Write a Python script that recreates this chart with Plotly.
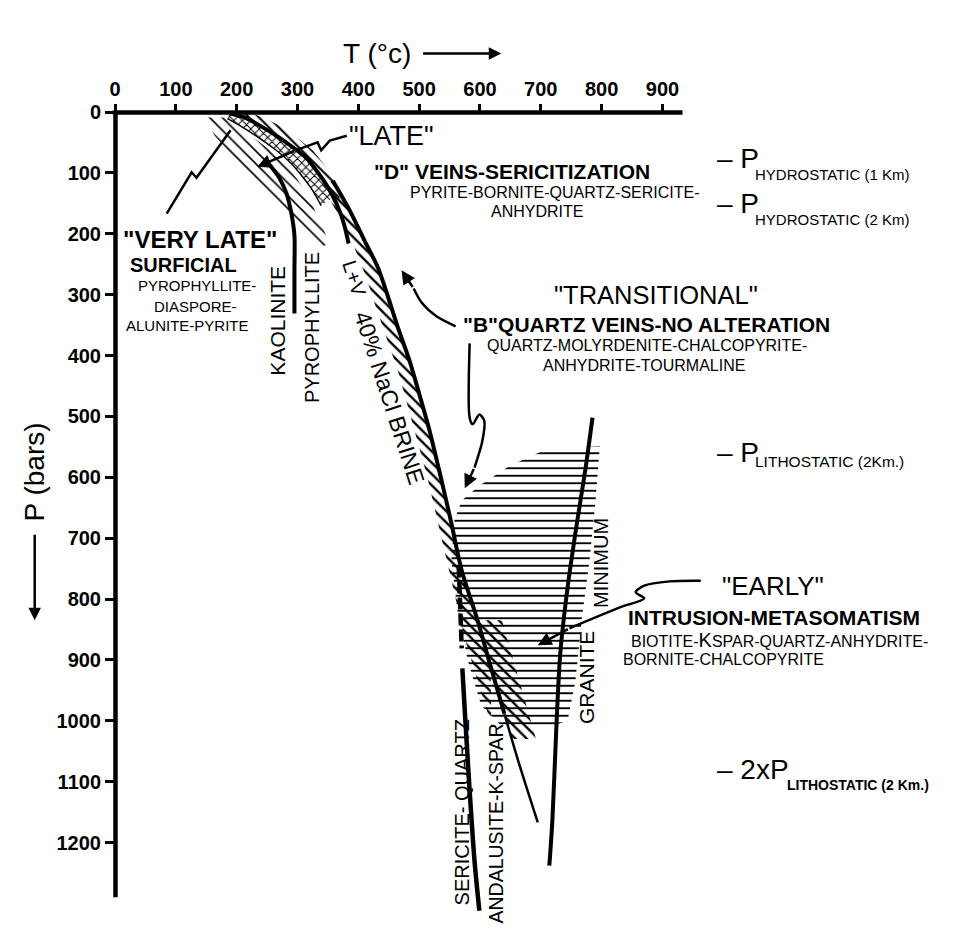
import plotly.graph_objects as go

# ---------------- data (T in deg C, P in bars) ----------------
X_TICKS = [0, 100, 200, 300, 400, 500, 600, 700, 800, 900]
Y_TICKS = [0, 100, 200, 300, 400, 500, 600, 700, 800, 900, 1000, 1100, 1200]
X_AXIS_END = 933
Y_AXIS_END = 1290

# L+V 40% NaCl brine curve
brine_T = [358, 386, 410, 432, 448, 464, 484, 501, 517, 533, 552, 570, 596, 617, 640, 665, 695]
brine_P = [113, 162, 211, 255, 301, 351, 408, 466, 523, 589, 671, 753, 835, 909, 988, 1073, 1167]

# upper ("late") arc and its thin inner rail
arc_T = [188, 213, 241, 270, 295, 315, 331, 346, 359, 369, 377, 384]
arc_P = [2, 9, 24, 42, 60, 76, 96, 117, 140, 162, 186, 216]
arc_out_T = [221, 249, 279, 303, 325, 343, 358, 369]
arc_out_P = [1, 11, 27, 45, 63, 85, 106, 129]
inner_T = [185, 208, 236, 264, 288, 308, 325, 339]
inner_P = [11, 24, 42, 62, 83, 106, 129, 154]

# kaolinite / pyrophyllite boundary
kaol_T = [251, 270, 282, 290, 295, 295, 295]
kaol_P = [83, 108, 134, 167, 203, 260, 331]

# sericite-quartz / andalusite-K-spar boundary
seric_dash_T = [565, 570]
seric_dash_P = [745, 881]
seric_T = [571, 576, 583, 591, 599]
seric_P = [914, 1000, 1115, 1230, 1312]

# granite minimum
granite_T = [785, 773, 760, 744, 732, 726, 719, 714]
granite_P = [502, 589, 671, 781, 889, 1000, 1164, 1238]

# hatched fields
early_T = [711, 797, 790, 780, 767, 757, 744, 711, 640, 602, 580, 563, 553, 558, 570, 599, 649]
early_P = [553, 549, 638, 737, 835, 934, 1000, 1011, 1013, 975, 901, 819, 737, 671, 638, 614, 581]
brine_band_T = [340, 368, 392, 412, 428, 445, 465, 481, 497, 514, 530, 545, 560, 576, 596, 619]
brine_band_P = [121, 170, 219, 269, 318, 367, 425, 482, 540, 602, 671, 737, 802, 868, 934, 1008]
brine_right_T = [596, 617, 640, 652, 692, 680, 657, 636]
brine_right_P = [835, 909, 988, 1030, 1030, 988, 909, 835]
verylate_T = [147, 180, 205, 234, 262, 287, 307, 325, 339, 353, 336, 311, 284, 254, 221, 191, 164]
verylate_P = [9, 9, 25, 47, 68, 93, 121, 154, 186, 216, 223, 195, 165, 137, 104, 71, 39]

# arrow paths (last point = arrow tip)
arr_verylate_T = [85, 126, 134, 190, 195]
arr_verylate_P = [167, 99, 108, 30, 24]
arr_late_T = [381, 353, 339, 333, 297, 234]
arr_late_P = [39, 47, 63, 50, 63, 90]
arr_b1_T = [560, 529, 504, 491, 471]
arr_b1_P = [352, 336, 313, 290, 260]
arr_b2_T = [583, 583, 588, 599, 607, 604, 591, 575]
arr_b2_P = [380, 502, 513, 497, 507, 540, 584, 618]
arr_early_T = [963, 912, 870, 856, 870, 829, 747, 695]
arr_early_P = [770, 771, 778, 789, 799, 814, 848, 876]

# ---------------- layout geometry ----------------
W, H = 958, 929
ML, MT = 115, 112
PX_X = 0.6083   # px per deg C
PX_Y = 0.6088   # px per bar
X_MAX = (W - ML) / PX_X
Y_MAX = (H - MT) / PX_Y
FONT = "Liberation Sans, Arial, sans-serif"


def xp(t):
    return t / X_MAX


def yp(p):
    return 1 - p / Y_MAX


fig = go.Figure()


def hatch(xs, ys, shape, size, solidity):
    fig.add_trace(go.Scatter(
        x=xs, y=ys, mode="lines", fill="toself",
        line=dict(width=0, color="black"),
        fillcolor="rgba(0,0,0,0)",
        fillpattern=dict(shape=shape, size=size, solidity=solidity,
                         fgcolor="black", fgopacity=1),
        hoverinfo="skip", showlegend=False))


def curve(xs, ys, width, dash="solid", smooth=True):
    fig.add_trace(go.Scatter(
        x=xs, y=ys, mode="lines",
        line=dict(color="black", width=width, dash=dash,
                  shape="spline" if smooth else "linear", smoothing=0.8),
        hoverinfo="skip", showlegend=False))


# hatching
hatch(early_T, early_P, "-", 7.5, 0.25)
hatch(brine_band_T + brine_T[::-1][3:], brine_band_P + brine_P[::-1][3:], "\\", 8, 0.3)
hatch(brine_right_T, brine_right_P, "\\", 8, 0.3)
hatch(verylate_T, verylate_P, "\\", 9, 0.18)
hatch(arc_T[:9] + inner_T[::-1], arc_P[:9] + inner_P[::-1], "x", 6, 0.3)
hatch(arc_T[:10] + arc_out_T[::-1], arc_P[:10] + arc_out_P[::-1], "\\", 7, 0.3)

# boundary curves
curve(arc_T, arc_P, 4)
curve(inner_T, inner_P, 1.5)
curve(kaol_T, kaol_P, 4)
curve(brine_T[:15], brine_P[:15], 4)
curve(brine_T[14:], brine_P[14:], 2.5)
curve(seric_dash_T, seric_dash_P, 4.5, dash="12px,4px", smooth=False)
curve(seric_T, seric_P, 4.5)
curve(granite_T, granite_P, 4)

annotations = []


def arrow(ts, ps, width=2.5, smooth=True):
    curve(ts[:-1], ps[:-1], width, smooth=smooth)
    annotations.append(dict(
        x=ts[-1], y=ps[-1], ax=ts[-2], ay=ps[-2], xref="x", yref="y",
        axref="x", ayref="y", text="", showarrow=True, arrowhead=2,
        arrowsize=1.1, arrowwidth=width, arrowcolor="black",
        standoff=0, startstandoff=0))


arrow(arr_verylate_T, arr_verylate_P, smooth=False)
arrow(arr_late_T, arr_late_P, smooth=False)
arrow(arr_b1_T, arr_b1_P)
arrow(arr_b2_T, arr_b2_P)
arrow(arr_early_T, arr_early_P)


def label(text, t, p, size, bold=False, angle=0, xanchor="center"):
    annotations.append(dict(
        x=t, y=p, xref="x", yref="y", text=text, showarrow=False,
        textangle=angle, xanchor=xanchor, yanchor="middle",
        font=dict(family=FONT, size=size, color="black",
                  weight="bold" if bold else "normal")))


label('"LATE"', 455, 40, 27)
label('"D" VEINS-SERICITIZATION', 653, 97, 21, bold=True)
label('PYRITE-BORNITE-QUARTZ-SERICITE-', 723, 133, 16)
label('ANHYDRITE', 693, 163, 16)
label('"VERY LATE"', 139, 209, 24, bold=True)
label('SURFICIAL', 113, 252, 20, bold=True)
label('PYROPHYLLITE-', 135, 285, 15)
label('DIASPORE-', 133, 319, 15)
label('ALUNITE-PYRITE', 119, 351, 15)
label('KAOLINITE', 267, 342, 21, angle=-90)
label('PYROPHYLLITE', 323, 354, 20, angle=-90)
label('L+V', 393, 273, 20, angle=72)
label('40% NaCl BRINE', 452, 469, 23, angle=72)
label('"TRANSITIONAL"', 890, 300, 25.5)
label('"B"QUARTZ VEINS-NO ALTERATION', 873, 349, 21, bold=True)
label('QUARTZ-MOLYRDENITE-CHALCOPYRITE-', 874, 384, 16)
label('ANHYDRITE-TOURMALINE', 870, 417, 16)
label('MINIMUM', 798, 740, 20, angle=-90)
label('GRANITE', 775, 929, 21, angle=-90)
label('"EARLY"', 1082, 779, 26)
label('INTRUSION-METASOMATISM', 1083, 831, 21, bold=True)
label('BIOTITE-<span style="font-size:20px">K</span>SPAR-QUARTZ-ANHYDRITE-', 1093, 867, 16)
label('BORNITE-CHALCOPYRITE', 1001, 900, 16)
label('SERICITE- QUARTZ', 570, 1151, 20, angle=-90)
label('ANDALUSITE-K-SPAR', 627, 1168, 19.5, angle=-90)

# pressure references on the right
label('– P', 986, 76, 28, xanchor="left")
label('HYDROSTATIC (1 Km)', 1048, 102, 15, xanchor="left")
label('– P', 986, 150, 28, xanchor="left")
label('HYDROSTATIC (2 Km)', 1048, 176, 15, xanchor="left")
label('– P', 986, 559, 28, xanchor="left")
label('LITHOSTATIC (2Km.)', 1048, 574, 15.5, xanchor="left")
label('– 2xP', 986, 1080, 28, xanchor="left")
label('LITHOSTATIC (2 Km.)', 1102, 1105, 14, bold=True, xanchor="left")

# axis titles with arrows (outside the plot area -> paper coords)
annotations.append(dict(x=xp(430), y=yp(-96), xref="paper", yref="paper",
                        text="T (°c)", showarrow=False, xanchor="center", yanchor="middle",
                        font=dict(family=FONT, size=28, color="black")))
annotations.append(dict(x=xp(635), y=yp(-96), xref="paper", yref="paper",
                        ax=-(635 - 504) * PX_X, ay=0, text="", showarrow=True,
                        arrowhead=2, arrowsize=1, arrowwidth=2.5, arrowcolor="black",
                        standoff=0, startstandoff=0))
annotations.append(dict(x=xp(-132), y=yp(591), xref="paper", yref="paper",
                        text="P (bars)", showarrow=False, textangle=-90,
                        xanchor="center", yanchor="middle",
                        font=dict(family=FONT, size=28, color="black")))
annotations.append(dict(x=xp(-132), y=yp(835), xref="paper", yref="paper",
                        ax=0, ay=-(835 - 692) * PX_Y, text="", showarrow=True,
                        arrowhead=2, arrowsize=1, arrowwidth=2.5, arrowcolor="black",
                        standoff=0, startstandoff=0))

# axis lines (limited extent, as in the original)
shapes = [
    dict(type="line", xref="paper", yref="paper", x0=xp(-3.7), x1=xp(X_AXIS_END),
         y0=yp(0.8), y1=yp(0.8), line=dict(color="black", width=4.5)),
    dict(type="line", xref="paper", yref="paper", x0=xp(0.8), x1=xp(0.8),
         y0=yp(0), y1=yp(Y_AXIS_END), line=dict(color="black", width=4.5)),
]

tickfont = dict(family=FONT, size=20, color="black", weight="bold")
fig.update_layout(
    template="none",
    width=W, height=H,
    margin=dict(l=ML, r=0, t=MT, b=0, pad=0),
    paper_bgcolor="white", plot_bgcolor="white",
    showlegend=False,
    xaxis=dict(range=[0, X_MAX], side="top", tickvals=X_TICKS, ticks="outside",
               ticklen=7, tickwidth=3, tickcolor="black", showgrid=False,
               zeroline=False, showline=False, tickfont=tickfont,
               fixedrange=True, automargin=False),
    yaxis=dict(range=[Y_MAX, 0], tickvals=Y_TICKS, ticks="outside",
               ticklen=9, tickwidth=3, tickcolor="black", showgrid=False,
               zeroline=False, showline=False, tickfont=tickfont,
               fixedrange=True, automargin=False),
    annotations=annotations,
    shapes=shapes,
)

fig.write_html("out.html")
